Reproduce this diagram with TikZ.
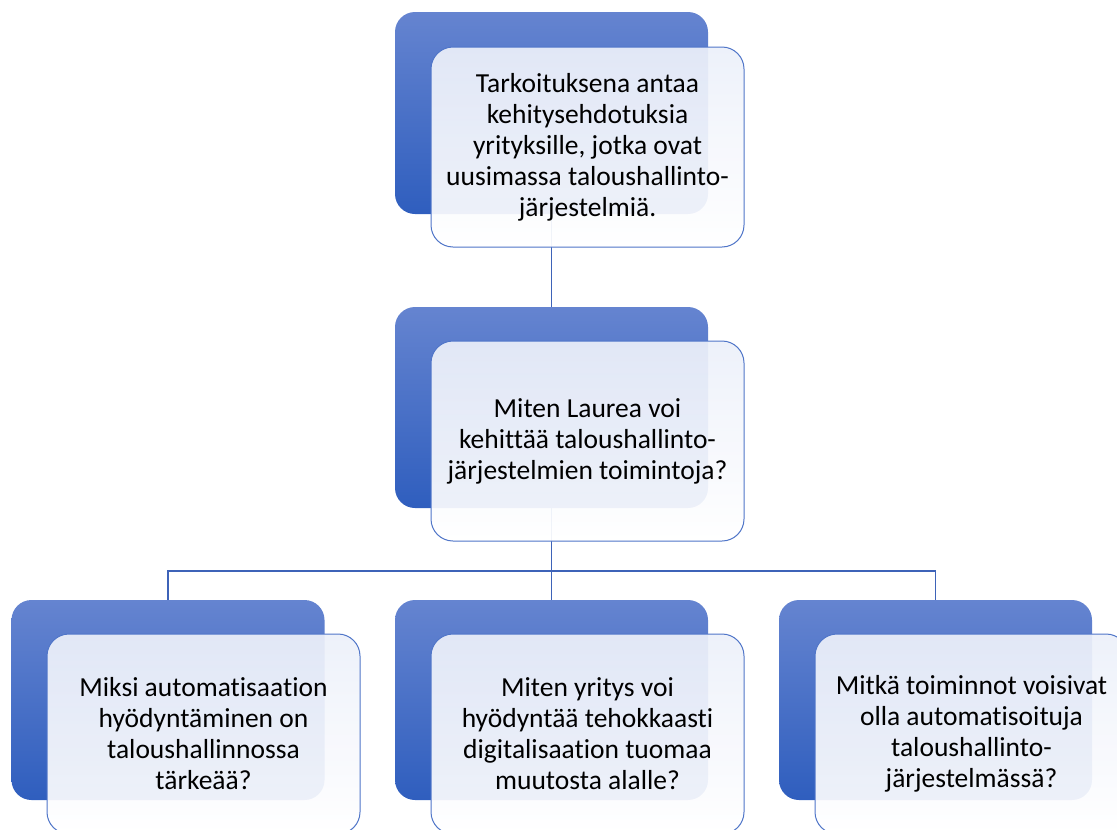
\documentclass[tikz,border=0pt]{standalone}
\usepackage{fontspec}
\setmainfont[RawFeature=-liga]{Carlito}
\begin{document}
\begin{tikzpicture}[x=1pt,y=-1pt,
  backbox/.style={rounded corners=20pt, draw=none, top color=bTop, bottom color=bBot,
    minimum width=313pt, minimum height=201pt, inner sep=0pt, outer sep=0pt},
  frontbox/.style={rounded corners=22pt, draw=fEdge, line width=1pt,
    top color=fTop, bottom color=white, fill opacity=0.93, draw opacity=1, text opacity=1,
    minimum width=313pt, minimum height=200pt, inner sep=0pt, outer sep=0pt,
    align=center, text=black,
    font=\fontsize{27.5pt}{31pt}\selectfont},
  link/.style={draw=lnk, line width=1.2pt}]
\definecolor{bTop}{RGB}{101,132,208}
\definecolor{bBot}{RGB}{47,94,190}
\definecolor{fTop}{RGB}{236,240,250}
\definecolor{fEdge}{RGB}{79,117,200}
\definecolor{lnk}{RGB}{62,99,184}
\useasboundingbox (0,0) rectangle (1117,830);
\clip (0,0) rectangle (1117,830);
% back boxes
\node[backbox, minimum height=202pt] (tb) at (551.5,113) {};
\node[backbox] (mb) at (551.5,407.5) {};
\node[backbox, minimum height=200pt] (b1) at (168,700) {};
\node[backbox, minimum height=200pt] (b2) at (551.5,700) {};
\node[backbox, minimum height=200pt] (b3) at (935.5,700) {};
% connectors
\coordinate (bus) at (551.5,571);
\draw[link] (tb.south) -- (mb.north);
\draw[link] (mb.south) -- (bus);
\draw[link] (bus) -| (b1.north);
\draw[link] (bus) -| (b3.north);
\draw[link] (bus) -- (b2.north);
% front boxes
\node[frontbox] (tf) at (587.5,147) {Tarkoituksena antaa\\kehitysehdotuksia\\yrityksille, jotka ovat\\uusimassa taloushallinto-\\järjestelmiä.};
\node[frontbox] (mf) at (587.5,441) {Miten Laurea voi\\kehittää taloushallinto-\\järjestelmien toimintoja?};
\node[frontbox] (f1) at (203.5,734) {Miksi automatisaation\\hyödyntäminen on\\taloushallinnossa\\tärkeää?};
\node[frontbox] (f2) at (587.5,734) {Miten yritys voi\\hyödyntää tehokkaasti\\digitalisaation tuomaa\\muutosta alalle?};
\node[frontbox] (f3) at (971.5,734) {Mitkä toiminnot voisivat\\olla automatisoituja\\taloushallinto-\\järjestelmässä?};
\end{tikzpicture}
\end{document}
